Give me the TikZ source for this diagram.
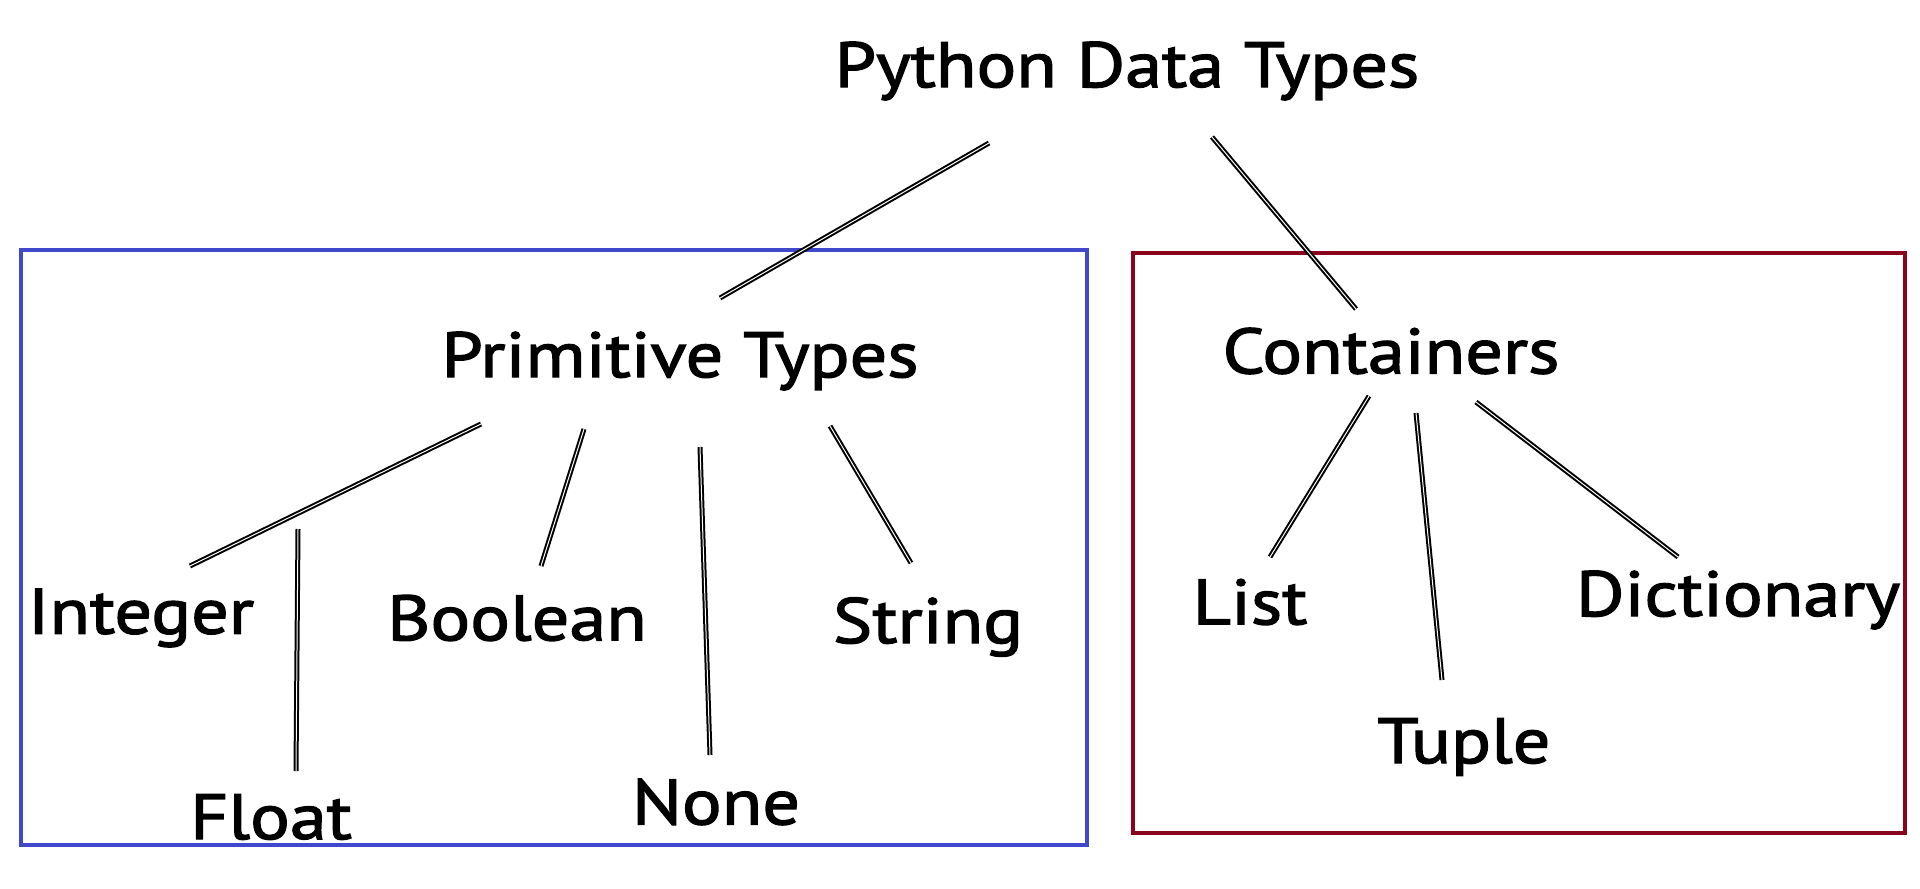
\documentclass[tikz,border=0pt]{standalone}
\usepackage{fontspec}
\setmainfont{PT Sans}[FakeStretch=1.16, FakeBold=2]
\definecolor{primblue}{RGB}{64,72,204}
\definecolor{contred}{RGB}{138,4,30}
\begin{document}
\begin{tikzpicture}[x=0.5pt,y=-0.5pt,
        txt/.style={font=\fontsize{32}{38}\selectfont, inner sep=0pt},
        conn/.style={double, line width=1pt, double distance=0.5pt},
        typebox/.style={line width=2.2pt}]
        \useasboundingbox (0,0) rectangle (1920,888);
        % the two groups
        \draw[typebox, primblue] (21,250) rectangle (1087,845);
        \draw[typebox, contred] (1133,253) rectangle (1905,833);
        % names
        \node[txt] (py) at (1127,71) {Python Data Types};
        \node[txt] (prim) at (680,361) {Primitive Types};
        \node[txt] (cont) at (1391,351) {Containers};
        \node[txt] (int) at (141,618) {Integer};
        \node[txt] (flt) at (271,817) {Float};
        \node[txt] (bool) at (517,618) {Boolean};
        \node[txt] (none) at (716,802) {None};
        \node[txt] (str) at (928,627) {String};
        \node[txt] (list) at (1250,602) {List};
        \node[txt] (tup) at (1464,747) {Tuple};
        \node[txt] (dict) at (1738,600) {Dictionary};
        \coordinate (fltop) at (298,529);
        % lines
        \draw[conn] ([shift={(-138,72)}]py.center) -- ([shift={(40,-63)}]prim.center);
        \draw[conn] ([shift={(85,66)}]py.center) -- ([shift={(-35,-42)}]cont.center);
        \draw[conn] ([shift={(-199,63)}]prim.center) -- ([shift={(49,-52)}]int.center);
        \draw[conn] (fltop) -- ([shift={(25,-46)}]flt.center);
        \draw[conn] ([shift={(-96,68)}]prim.center) -- ([shift={(24,-52)}]bool.center);
        \draw[conn] ([shift={(20,86)}]prim.center) -- ([shift={(-6,-47)}]none.center);
        \draw[conn] ([shift={(150,65)}]prim.center) -- ([shift={(-17,-64)}]str.center);
        \draw[conn] ([shift={(-22,45)}]cont.center) -- ([shift={(20,-45)}]list.center);
        \draw[conn] ([shift={(25,62)}]cont.center) -- ([shift={(-22,-67)}]tup.center);
        \draw[conn] ([shift={(85,51)}]cont.center) -- ([shift={(-60,-43)}]dict.center);
\end{tikzpicture}
\end{document}
